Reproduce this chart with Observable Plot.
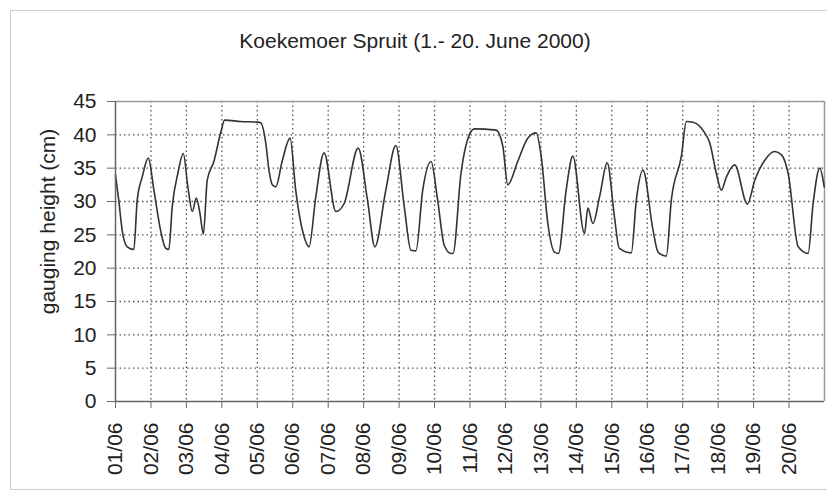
<!DOCTYPE html>
<html>
<head>
<meta charset="utf-8">
<script src="https://cdn.jsdelivr.net/npm/d3@7"></script>
<script src="https://cdn.jsdelivr.net/npm/@observablehq/plot@0.6"></script>
<style>
  html, body { margin: 0; padding: 0; background: #fff; overflow: hidden; }
  #wrap { position: relative; width: 827px; height: 493px; }
  #border { position: absolute; left: 10px; top: 10px; width: 830px; height: 480px; border: 1px solid #cfcfcf; box-sizing: border-box; }
  #chart { position: absolute; left: 0; top: 0; }
</style>
</head>
<body>
<div id="wrap"><div id="border"></div><div id="chart"></div></div>
<script>
const title = "Koekemoer Spruit (1.- 20. June 2000)";
const yLabel = "gauging height (cm)";

// hours since 01/06/2000 00:00
const hours = [0, 2.2, 4.5, 7.9, 12.4, 14.7, 18.1, 22.2, 26, 30.5, 33.9, 36.1, 38.4, 42.2, 45.9, 49, 52, 54.7, 57.2, 59.5,
  62.1, 66.6, 71.2, 73.9, 84.7, 96.1, 98.3, 101.7, 103.9, 106.2, 108.5, 113, 118.2, 122, 127.7, 131, 135.6, 141.2, 149.2, 154.8,
  164.3, 170.6, 175.6, 183, 189.8, 195.5, 200, 203.4, 208, 213.6, 218.1, 222.6, 227.1, 228.5, 233.9, 240.7, 243, 257.6, 262.2, 265.6,
  272.3, 279.1, 284.8, 288.2, 292.7, 297.2, 299.9, 305.1, 309.6, 317.5, 319.8, 323.2, 327.7, 332.9, 337.8, 341, 349.2, 352.6, 357.1, 363.9,
  367.3, 372.9, 376.3, 383.1, 386.5, 391, 398.9, 402.3, 406.8, 410.2, 413.6, 419.2, 427.8, 432.8, 439.6, 446.3, 450.9, 455.4, 462.2, 468.9,
  472.3, 476.8, 479.8];
// gauging height (cm)
const gauge = [34.0, 30.2, 25.7, 23.2, 22.8, 30.2, 33.7, 36.5, 31.7, 25.7, 23.0, 22.8, 29.2, 34.2, 37.2, 32.2, 28.5, 30.5, 28.2, 25.1,
  33.2, 36.0, 40.3, 42.2, 42.0, 41.9, 41.8, 38.8, 34.7, 32.5, 32.2, 36.2, 39.5, 31.7, 24.7, 23.2, 30.7, 37.3, 28.5, 29.7,
  38.0, 30.2, 23.2, 31.7, 38.4, 29.2, 22.7, 22.6, 31.7, 36.0, 30.2, 23.4, 22.2, 22.2, 34.2, 40.5, 40.9, 40.7, 38.3, 32.5,
  36.0, 39.5, 40.3, 36.8, 26.7, 22.4, 22.2, 31.7, 36.8, 25.2, 29.0, 26.7, 30.7, 35.8, 27.7, 23.0, 22.3, 30.2, 34.7, 25.7,
  22.4, 21.8, 30.2, 36.8, 42.0, 41.9, 40.3, 38.8, 34.2, 31.7, 33.7, 35.5, 29.6, 33.2, 36.2, 37.5, 37.0, 34.2, 23.2, 22.2,
  29.7, 35.0, 32.2];

const dayLabels = ["01/06","02/06","03/06","04/06","05/06","06/06","07/06","08/06","09/06","10/06",
  "11/06","12/06","13/06","14/06","15/06","16/06","17/06","18/06","19/06","20/06"];
const yTicks = [0, 5, 10, 15, 20, 25, 30, 35, 40, 45];

const data = hours.map((h, i) => ({day: h / 24, v: gauge[i]}));
const dayTicks = dayLabels.map((_, i) => i);

const font = "'Liberation Sans', Arial, Helvetica, sans-serif";
const gridStyle = {stroke: "#555", strokeDasharray: "1.5,3", strokeWidth: 1.3};

const chart = Plot.plot({
  width: 827,
  height: 493,
  marginTop: 101,
  marginLeft: 115,
  marginRight: 3,
  marginBottom: 92,
  style: {fontFamily: font, fontSize: "21px", color: "#222", background: "transparent", overflow: "visible"},
  x: {type: "linear", domain: [0, 20]},
  y: {domain: [0, 45]},
  marks: [
    Plot.ruleY(yTicks.slice(1, -1), gridStyle),
    Plot.ruleX(dayTicks.slice(1), gridStyle),
    Plot.ruleY([45], {stroke: "#9a9a9a", strokeWidth: 1.5}),
    Plot.ruleX([20], {stroke: "#9a9a9a", strokeWidth: 1.5}),
    Plot.line(data, {x: "day", y: "v", stroke: "#333", strokeWidth: 1.6, curve: "monotone-x"}),
    Plot.ruleY([0], {stroke: "#666", strokeWidth: 1.5}),
    Plot.ruleX([0], {stroke: "#666", strokeWidth: 1.5}),
    Plot.axisY({ticks: yTicks, tickSize: 8, tickPadding: 11, label: null, stroke: "#666", fontSize: 21, fill: "#222"}),
    Plot.axisX({ticks: dayTicks, tickFormat: (d) => dayLabels[d], tickRotate: -90, tickSize: 7, tickPadding: 14,
      label: null, stroke: "#666", fontSize: 21, fill: "#222"}),
    Plot.text([yLabel], {text: (d) => d, frameAnchor: "left", textAnchor: "middle", lineAnchor: "middle",
      rotate: -90, dx: -67, dy: -30, fontSize: 21, fill: "#222"}),
    Plot.text([title], {text: (d) => d, frameAnchor: "top", textAnchor: "middle", lineAnchor: "middle",
      dx: -55, dy: -60, fontSize: 21, fill: "#222"})
  ]
});
document.getElementById("chart").appendChild(chart);
</script>
</body>
</html>
